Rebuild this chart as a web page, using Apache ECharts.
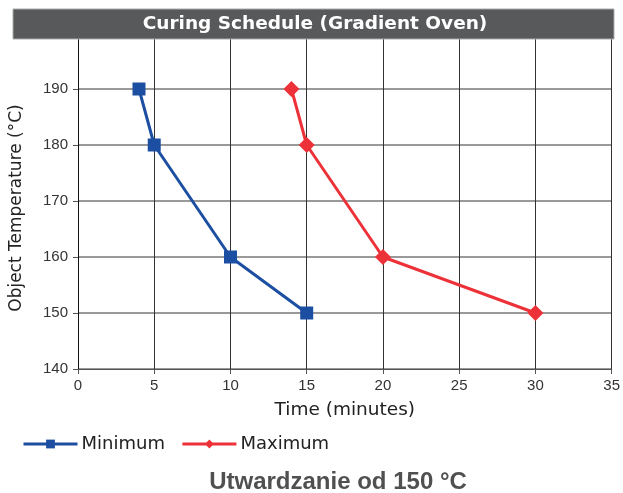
<!DOCTYPE html>
<html>
<head>
<meta charset="utf-8">
<script src="https://cdn.jsdelivr.net/npm/echarts@6/dist/echarts.min.js"></script>
<style>
html, body { margin: 0; padding: 0; background: #fff; }
#chart { width: 623px; height: 493px; }
</style>
</head>
<body>
<div id="chart"></div>
<script>
// curing schedule data (time in minutes, temperature in °C)
var minTime = [4, 5, 10, 15];
var minTemp = [190, 180, 160, 150];
var maxTime = [14, 15, 20, 30];
var maxTemp = [190, 180, 160, 150];
var xTicks = [0, 5, 10, 15, 20, 25, 30, 35];
var yTicks = [140, 150, 160, 170, 180, 190];

function pairs(xs, ys) {
    var out = [];
    for (var i = 0; i < xs.length; i++) {
        out.push([xs[i], ys[i]]);
    }
    return out;
}

var myChart = echarts.init(document.getElementById('chart'));

var labelFont = 'Liberation Sans';
var nameFont = 'DejaVu Sans';

myChart.setOption({
    animation: false,
    backgroundColor: '#fff',
    grid: { left: 78, right: 10, top: 33, bottom: 124 },
    graphic: [
        {
            type: 'rect', z: 100,
            shape: { x: 13, y: 9, width: 601, height: 30 },
            style: { fill: '#58595b', stroke: '#a9abab', lineWidth: 1 }
        },
        {
            type: 'text', z: 101,
            x: 315, y: 24,
            style: {
                text: 'Curing Schedule (Gradient Oven)',
                fill: '#fff', font: 'bold 18.5px "DejaVu Sans"',
                textAlign: 'center', textVerticalAlign: 'middle'
            }
        },
        {
            type: 'text',
            x: 338, y: 482,
            style: {
                text: 'Utwardzanie od 150 °C',
                fill: '#505050', font: 'bold 24px "Liberation Sans"',
                textAlign: 'center', textVerticalAlign: 'middle'
            }
        }
    ],
    legend: {
        left: 17, top: 430,
        itemWidth: 54, itemHeight: 11, itemGap: 16,
        lineStyle: { width: 3 },
        textStyle: { fontFamily: nameFont, fontSize: 18, color: '#222', padding: [0, 0, 0, -1] },
        data: ['Minimum', 'Maximum']
    },
    xAxis: {
        type: 'value', min: 0, max: 35, interval: 5,
        name: 'Time (minutes)', nameLocation: 'middle', nameGap: 32,
        nameTextStyle: { fontFamily: nameFont, fontSize: 18.5, color: '#222' },
        axisLine: { lineStyle: { color: '#555', width: 1 } },
        axisTick: { show: true, length: 5, lineStyle: { color: '#555' } },
        axisLabel: {
            fontFamily: labelFont, fontSize: 15, color: '#333', margin: 9,
            formatter: function (v) { return xTicks.indexOf(v) >= 0 ? String(v) : ''; }
        },
        splitLine: { show: true, lineStyle: { color: '#333', width: 1 } }
    },
    yAxis: {
        type: 'value', min: 140, max: 200, interval: 10,
        name: 'Object Temperature (°C)', nameLocation: 'middle', nameGap: 53,
        nameTextStyle: { fontFamily: nameFont, fontSize: 17, color: '#222', padding: [0, 14, 0, 0] },
        axisLine: { show: true, lineStyle: { color: '#111', width: 1 } },
        axisTick: { show: true, length: 5, lineStyle: { color: '#555' } },
        axisLabel: {
            fontFamily: labelFont, fontSize: 15, color: '#333', margin: 10,
            formatter: function (v) { return yTicks.indexOf(v) >= 0 ? String(v) : ''; }
        },
        splitLine: { show: true, lineStyle: { color: '#777', width: 1.5 } }
    },
    series: [
        {
            name: 'Minimum', type: 'line',
            data: pairs(minTime, minTemp),
            symbol: 'rect', symbolSize: 13,
            itemStyle: { color: '#1c4fa1' },
            lineStyle: { color: '#1c4fa1', width: 3 }
        },
        {
            name: 'Maximum', type: 'line',
            data: pairs(maxTime, maxTemp),
            symbol: 'diamond', symbolSize: 16,
            itemStyle: { color: '#ec3238' },
            lineStyle: { color: '#ec3238', width: 3 }
        }
    ]
});
</script>
</body>
</html>
